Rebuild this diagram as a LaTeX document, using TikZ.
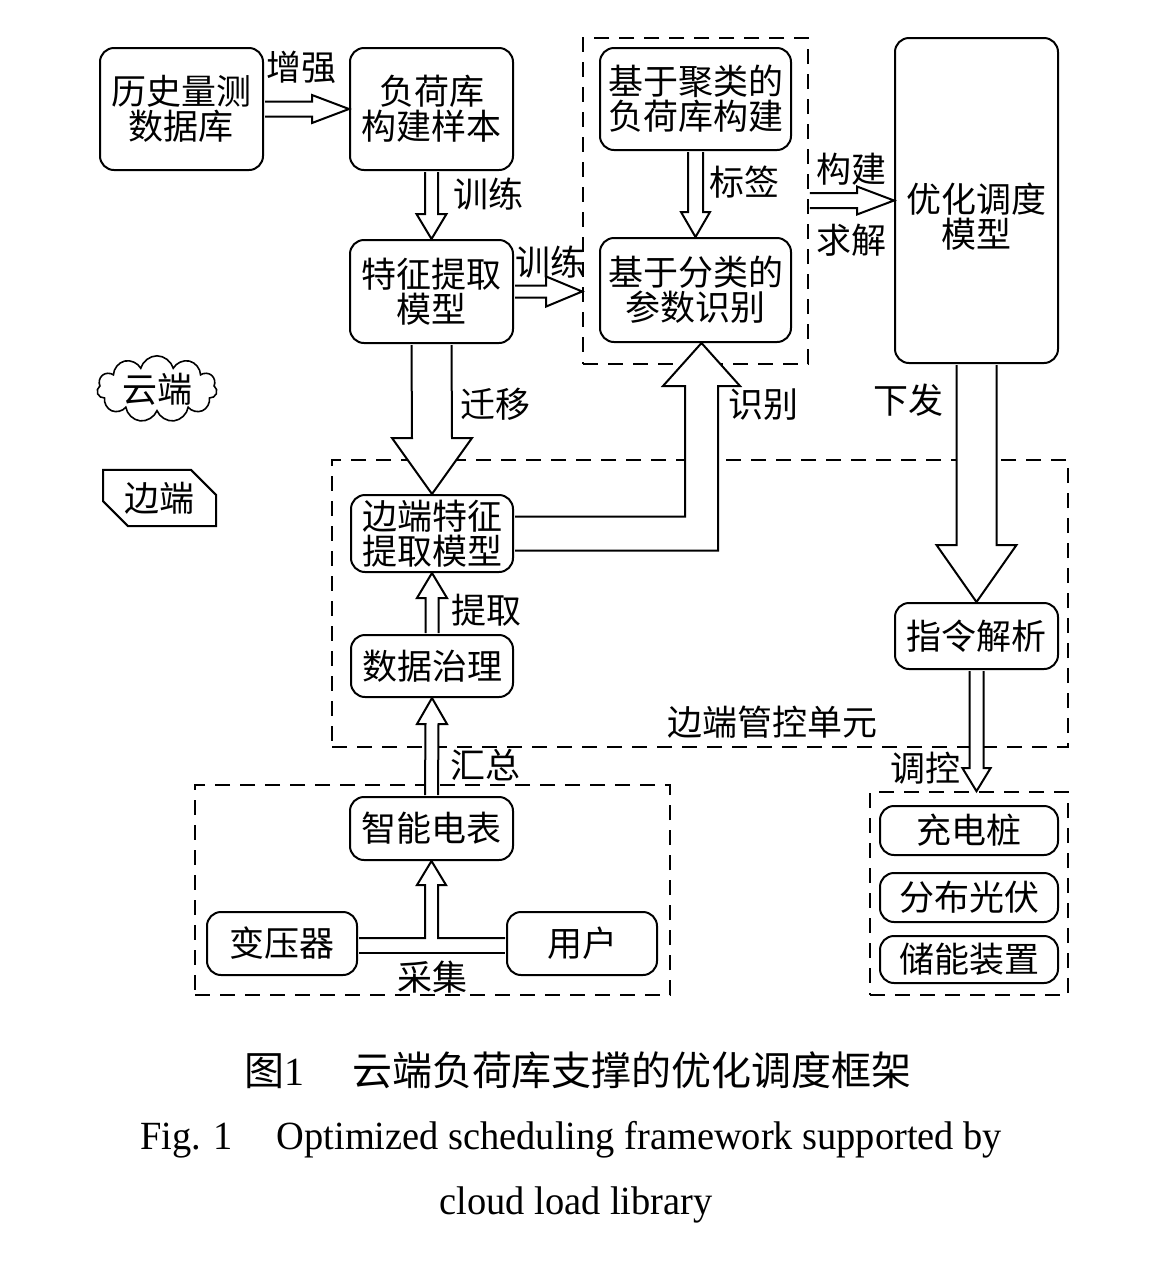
\documentclass[tikz,border=0pt]{standalone}
\usepackage{fontspec}
\setmainfont{Liberation Serif}
\newfontfamily\cjk{Noto Sans CJK SC}
\newfontfamily\capfont{Liberation Serif}[FakeStretch=0.96]
\usetikzlibrary{calc,shapes.symbols,shapes.misc}

\tikzstyle{block} = [rectangle, rounded corners=7pt, draw=black, line width=1pt, inner sep=0pt, align=center, font=\cjk\fontsize{17.5}{17.5}\selectfont]
\tikzstyle{group} = [rectangle, draw=black, line width=0.8pt, dash pattern=on 7.5pt off 5pt, inner sep=0pt]
\tikzstyle{hollow} = [draw=black, line width=1pt, fill=white, line join=miter]
\tikzstyle{lbl} = [inner sep=0pt, font=\cjk\fontsize{17.5}{17.5}\selectfont]

% hollow arrows: start, tip, shaft half width, head half width, head length
\newcommand{\arrowdown}[5]{\draw[hollow] ($(#1)+(-#3,1)$) -- ($(#2)+(-#3,-#5)$) -- ($(#2)+(-#4,-#5)$) -- (#2) -- ($(#2)+(#4,-#5)$) -- ($(#2)+(#3,-#5)$) -- ($(#1)+(#3,1)$);}
\newcommand{\arrowup}[5]{\draw[hollow] ($(#1)+(-#3,-1)$) -- ($(#2)+(-#3,#5)$) -- ($(#2)+(-#4,#5)$) -- (#2) -- ($(#2)+(#4,#5)$) -- ($(#2)+(#3,#5)$) -- ($(#1)+(#3,-1)$);}
\newcommand{\arrowright}[5]{\draw[hollow] ($(#1)+(1,-#3)$) -- ($(#2)+(-#5,-#3)$) -- ($(#2)+(-#5,-#4)$) -- (#2) -- ($(#2)+(-#5,#4)$) -- ($(#2)+(-#5,#3)$) -- ($(#1)+(1,#3)$);}

\begin{document}
\begin{tikzpicture}[x=0.5pt, y=-0.5pt]
\useasboundingbox (0,0) rectangle (1159,1271);

% dashed groups
\node (cloudgrp) [group, minimum width=112.5pt, minimum height=163pt] at (695.5,201) {};
\node (edgegrp) [group, minimum width=368pt, minimum height=143.5pt] at (700,603.5) {};
\node (sensegrp) [group, minimum width=237.5pt, minimum height=105pt] at (432.5,890) {};
\node (devgrp) [group, minimum width=99pt, minimum height=101.5pt] at (969,893.5) {};

% cloud side
\node (hist) [block, minimum width=81.5pt, minimum height=61pt] at (181.5,109) {历史量测\\数据库};
\node (sample) [block, minimum width=81.5pt, minimum height=61pt] at (431.5,109) {负荷库\\构建样本};
\node (feat) [block, minimum width=81.5pt, minimum height=51.5pt] at (431.5,291.5) {特征提取\\模型};
\node (cluster) [block, minimum width=95.5pt, minimum height=51pt] at (695.5,99) {基于聚类的\\负荷库构建};
\node (classify) [block, minimum width=95.5pt, minimum height=52pt] at (695.5,290) {基于分类的\\参数识别};
\node (optm) [block, minimum width=81.5pt, minimum height=162.5pt] at (976.5,200.5) {\rule{0pt}{31pt}优化调度\\模型};

% edge side
\node (edgefeat) [block, minimum width=81pt, minimum height=38.5pt] at (432,533.5) {边端特征\\提取模型};
\node (govern) [block, minimum width=81pt, minimum height=31pt] at (432,666) {数据治理};
\node (cmd) [block, minimum width=81.5pt, minimum height=33pt] at (976.5,636) {指令解析};
\node (meter) [block, minimum width=81.5pt, minimum height=31.5pt] at (431.5,828.5) {智能电表};
\node (trans) [block, minimum width=75pt, minimum height=31.5pt] at (282,943.5) {变压器};
\node (user) [block, minimum width=75pt, minimum height=31.5pt] at (582,943.5) {用户};
\node (charge) [block, minimum width=89pt, minimum height=24.5pt] at (969,830.5) {充电桩};
\node (pv) [block, minimum width=89pt, minimum height=24.5pt] at (969,897.5) {分布光伏};
\node (store) [block, minimum width=89pt, minimum height=23.5pt] at (969,959.5) {储能装置};

% legend
\node (cloudicon) [cloud, draw=black, line width=0.8pt, cloud puffs=11, aspect=2.3, minimum width=60pt, minimum height=26pt, inner sep=0pt, font=\cjk\fontsize{17.5}{17.5}\selectfont] at (157,389) {云端};
\node (edgeicon) [chamfered rectangle, chamfered rectangle corners={north east,south west}, chamfered rectangle xsep=6.5pt, chamfered rectangle ysep=6pt, draw=black, line width=1pt, minimum width=56.5pt, minimum height=28pt, inner sep=0pt, font=\cjk\fontsize{17.5}{17.5}\selectfont] at (159.5,498) {边端};

\coordinate (trainin) at (feat.east -| cloudgrp.west);
\coordinate (buildout) at (cloudgrp.east |- optm.west);
\coordinate (ctrlin) at (cmd.south |- devgrp.north);
\coordinate (idtip) at ($(classify.south)+(6,0)$);
\coordinate (idbend) at (idtip |- edgefeat.east);
\coordinate (gather) at (meter.south |- trans.east);

\arrowright{hist.east}{sample.west}{7.5}{14}{37}
\arrowdown{sample.south}{feat.north}{6.5}{15}{25}
\arrowright{feat.east}{trainin}{6}{15}{36}
\arrowdown{cluster.south}{classify.north}{7.5}{14.5}{25}
\arrowright{buildout}{optm.west}{7.5}{14}{37}
\arrowdown{optm.south}{cmd.north}{20}{40}{57}
\arrowdown{cmd.south}{ctrlin}{7}{14}{23}
\arrowdown{feat.south}{edgefeat.north}{20}{40}{56}
\arrowup{govern.north}{edgefeat.south}{6.5}{15}{25}
\arrowup{meter.north}{govern.south}{6.5}{15}{26}

% identify
\draw[hollow] ($(edgefeat.east)+(1,-17)$) -- ($(idbend)+(-16.5,-17)$) -- ($(idtip)+(-16.5,43)$) -- ($(idtip)+(-38.5,43)$) -- (idtip) -- ($(idtip)+(38.5,43)$) -- ($(idtip)+(16.5,43)$) -- ($(idbend)+(16.5,17)$) -- ($(edgefeat.east)+(1,17)$);

% collect
\fill[white] ($(trans.east)+(1,-5.5)$) -- ($(gather)+(-6.5,-5.5)$) -- ($(gather)+(-6.5,-58.5)$) -- ($(gather)+(-14.5,-58.5)$) -- (meter.south) -- ($(gather)+(14.5,-58.5)$) -- ($(gather)+(6.5,-58.5)$) -- ($(gather)+(6.5,-5.5)$) -- ($(user.west)+(-1,-5.5)$) -- ($(user.west)+(-1,9.5)$) -- ($(trans.east)+(1,9.5)$) -- cycle;
\draw[line width=1pt, line join=miter] ($(trans.east)+(1,-5.5)$) -- ($(gather)+(-6.5,-5.5)$) -- ($(gather)+(-6.5,-58.5)$) -- ($(gather)+(-14.5,-58.5)$) -- (meter.south) -- ($(gather)+(14.5,-58.5)$) -- ($(gather)+(6.5,-58.5)$) -- ($(gather)+(6.5,-5.5)$) -- ($(user.west)+(-1,-5.5)$);
\draw[line width=1pt] ($(trans.east)+(1,9.5)$) -- ($(user.west)+(-1,9.5)$);

% labels
\node (lenhance) [lbl] at (301,67) {增强};
\node (ltrain) [lbl] at (488,194) {训练};
\node (ltrainr) [lbl] at (550,262) {训练};
\node (ltag) [lbl] at (744,182) {标签};
\node (lbuild) [lbl] at (851,169) {构建};
\node (lsolve) [lbl] at (851,240) {求解};
\node (lsend) [lbl] at (908,400) {下发};
\node (lmove) [lbl] at (495,404) {迁移};
\node (lident) [lbl] at (763,405) {识别};
\node (lextract) [lbl] at (486,610) {提取};
\node (lsum) [lbl] at (485,765) {汇总};
\node (lcollect) [lbl] at (432,977) {采集};
\node (lctrl) [lbl] at (925,768) {调控};
\node (lunit) [lbl] at (772,722) {边端管控单元};

% caption
\node (cap1) [inner sep=0pt] at (578,1070) {\cjk\fontsize{20}{20}\selectfont 图{\rmfamily 1}\hspace{24pt}云端负荷库支撑的优化调度框架};
\node (cap2) [inner sep=0pt] at (571,1140) {\capfont\fontsize{20}{20}\selectfont Fig. 1\hspace{22pt}Optimized scheduling framework supported by};
\node (cap3) [inner sep=0pt] at (576,1205) {\capfont\fontsize{20}{20}\selectfont cloud load library};

\end{tikzpicture}
\end{document}
